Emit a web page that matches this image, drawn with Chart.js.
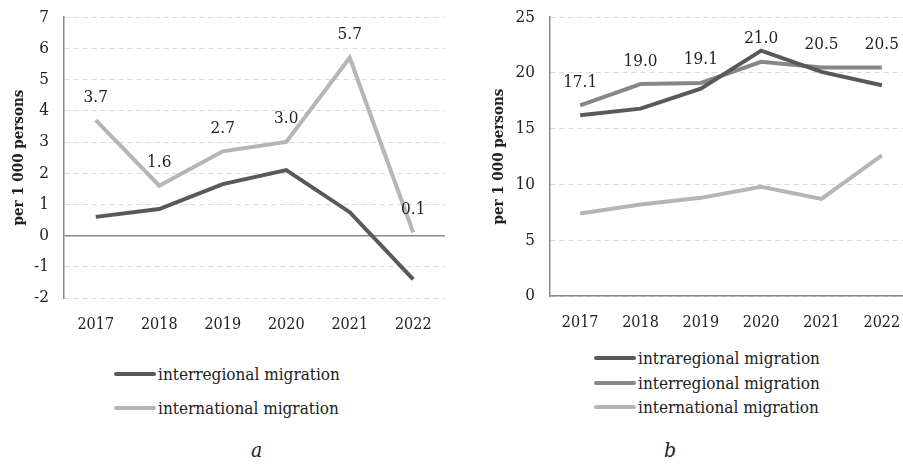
<!DOCTYPE html>
<html>
<head>
<meta charset="utf-8">
<script src="https://cdn.jsdelivr.net/npm/chart.js@4.4.0/dist/chart.umd.min.js"></script>
<style>
    html, body {
        margin: 0;
        padding: 0;
        background: #ffffff;
        overflow: hidden;
        width: 903px;
        height: 466px;
        font-family: "DejaVu Serif Condensed", "DejaVu Serif", serif;
        color: #222;
    }
    .panel {
        position: absolute;
        top: -8px;
        height: 348px;
    }
    #panel-a { left: 0; width: 450px; }
    #panel-b { left: 450px; width: 462px; }
    .legend {
        position: absolute;
        font-size: 17px;
    }
    .legend-item {
        display: flex;
        align-items: center;
        white-space: nowrap;
    }
    .swatch {
        width: 42px;
        height: 4px;
        border-radius: 2px;
        margin-right: 2px;
    }
    .caption {
        position: absolute;
        top: 438px;
        font-size: 21px;
        font-style: italic;
    }
</style>
</head>
<body>
<div class="panel" id="panel-a"><canvas id="chart-a"></canvas></div>
<div class="panel" id="panel-b"><canvas id="chart-b"></canvas></div>
<div class="legend" id="legend-a" style="left:114px; top:357px;"></div>
<div class="legend" id="legend-b" style="left:594px; top:346px;"></div>
<div class="caption" style="left:251px;">a</div>
<div class="caption" style="left:664px;">b</div>

<script>
// Years on the x axis
const years = ['2017', '2018', '2019', '2020', '2021', '2022'];

// Panel a: net migration, per 1 000 persons
const aInterregional = [0.6, 0.85, 1.65, 2.1, 0.75, -1.4];
const aInternational = [3.7, 1.6, 2.7, 3.0, 5.7, 0.1];

// Panel b: migration turnover, per 1 000 persons
const bIntraregional = [16.2, 16.8, 18.6, 22.0, 20.1, 18.9];
const bInterregional = [17.1, 19.0, 19.1, 21.0, 20.5, 20.5];
const bInternational = [7.4, 8.2, 8.8, 9.8, 8.7, 12.6];

const DARK = '#595959';
const MID = '#878787';
const LIGHT = '#b5b5b5';
const FONT = "'DejaVu Serif Condensed', 'DejaVu Serif', serif";

// value labels above the points of datasets flagged with showLabels
const valueLabels = {
    id: 'valueLabels',
    afterDatasetsDraw(chart) {
        const ctx = chart.ctx;
        ctx.save();
        ctx.font = `17px ${FONT}`;
        ctx.fillStyle = '#222';
        ctx.textAlign = 'center';
        ctx.textBaseline = 'middle';
        chart.data.datasets.forEach((ds, i) => {
            if (!ds.showLabels) return;
            chart.getDatasetMeta(i).data.forEach((pt, j) => {
                ctx.fillText(ds.data[j].toFixed(1), pt.x, pt.y - 23);
            });
        });
        ctx.restore();
    }
};

function lineDataset(label, data, color, showLabels) {
    return {
        label: label,
        data: data,
        borderColor: color,
        backgroundColor: color,
        borderWidth: 4,
        pointRadius: 0,
        tension: 0,
        showLabels: showLabels
    };
}

function makeOptions(cfg) {
    const isZero = (c) => cfg.zeroLine && c.tick && c.tick.value === 0;
    return {
        responsive: true,
        maintainAspectRatio: false,
        animation: false,
        layout: { padding: cfg.padding },
        plugins: {
            legend: { display: false },
            tooltip: { enabled: false }
        },
        scales: {
            x: {
                offset: true,
                grid: { display: false },
                border: { display: cfg.xBorder, color: '#888', width: 1.5 },
                ticks: { color: '#222', font: { family: FONT, size: 16 }, padding: 9, maxRotation: 0 },
                afterFit(scale) { scale.height = cfg.xHeight; }
            },
            y: {
                min: cfg.min,
                max: cfg.max,
                ticks: { stepSize: cfg.step, color: '#222', font: { family: FONT, size: 17 }, padding: 15 },
                grid: {
                    drawTicks: false,
                    color: (c) => isZero(c) ? '#888' : '#d9d9d9',
                    lineWidth: (c) => isZero(c) ? 1.5 : 1
                },
                border: {
                    display: true,
                    color: '#888',
                    width: 1.5,
                    dash: (c) => isZero(c) ? [] : [5, 4]
                },
                title: {
                    display: true,
                    text: 'per 1 000 persons',
                    color: '#222',
                    font: { family: FONT, size: 15, weight: 'bold' },
                    padding: { top: 0, bottom: 0 }
                },
                afterFit(scale) { scale.width = cfg.yWidth; }
            }
        }
    };
}

const setA = [
    lineDataset('interregional migration', aInterregional, DARK, false),
    lineDataset('international migration', aInternational, LIGHT, true)
];
const setB = [
    lineDataset('intraregional migration', bIntraregional, DARK, false),
    lineDataset('interregional migration', bInterregional, MID, true),
    lineDataset('international migration', bInternational, LIGHT, false)
];

new Chart(document.getElementById('chart-a'), {
    type: 'line',
    data: { labels: years, datasets: setA },
    options: makeOptions({
        min: -2, max: 7, step: 1, zeroLine: true, xBorder: false,
        yWidth: 54, xHeight: 42,
        padding: { left: 10, right: 5, top: 2, bottom: 0 }
    }),
    plugins: [valueLabels]
});

new Chart(document.getElementById('chart-b'), {
    type: 'line',
    data: { labels: years, datasets: setB },
    options: makeOptions({
        min: 0, max: 25, step: 5, zeroLine: false, xBorder: true,
        yWidth: 60, xHeight: 44,
        padding: { left: 40, right: 0, top: 2, bottom: 0 }
    }),
    plugins: [valueLabels]
});

// Legends listed vertically below each panel
function buildLegend(el, datasets, rowHeight) {
    datasets.forEach(ds => {
        const row = document.createElement('div');
        row.className = 'legend-item';
        row.style.height = rowHeight + 'px';
        const sw = document.createElement('span');
        sw.className = 'swatch';
        sw.style.background = ds.borderColor;
        const txt = document.createElement('span');
        txt.textContent = ds.label;
        row.appendChild(sw);
        row.appendChild(txt);
        el.appendChild(row);
    });
}

buildLegend(document.getElementById('legend-a'), setA, 34);
buildLegend(document.getElementById('legend-b'), setB, 24.5);
</script>
</body>
</html>
